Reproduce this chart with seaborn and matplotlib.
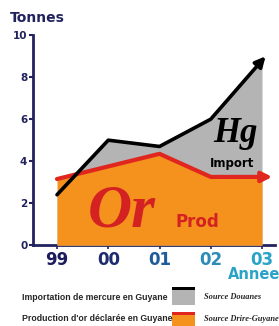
import numpy as np
import matplotlib
matplotlib.use("Agg")
import matplotlib.pyplot as plt
from matplotlib.patches import Rectangle
import seaborn as sns

# data
years = ["99", "00", "01", "02", "03"]
hg_import = [2.4, 5.0, 4.7, 6.0, 8.8]      # mercure importé (t)
or_prod = [3.15, 3.75, 4.35, 3.25, 3.25]   # or déclaré (t)
year_colors = ["#1c1c5c", "#1d2c6e", "#1f5c9c", "#2b8cb8", "#2aa3c6"]

sns.set_style("ticks")
plt.rcParams['font.family'] = ['DejaVu Sans']

navy = "#22225e"
orange = "#f5921e"
red = "#e0261e"
grey = "#b4b4b4"

fig = plt.figure(figsize=(2.79, 3.26), dpi=100)
ax = fig.add_axes([0.118, 0.248, 0.867, 0.644])

x = np.arange(len(years))

# areas
ax.fill_between(x, 0, hg_import, color=grey, zorder=2, lw=0)
ax.fill_between(x, 0, or_prod, color=orange, zorder=3, lw=0)

# lines
sns.lineplot(x=x, y=hg_import, color="black", lw=2.6, ax=ax, zorder=5)
sns.lineplot(x=x, y=or_prod, color=red, lw=3, ax=ax, zorder=4)

# arrow heads continuing the last segments
def arrow_end(xs, ys, ext, color, lw):
    dx, dy = xs[-1] - xs[-2], ys[-1] - ys[-2]
    ax.annotate("", xy=(xs[-1] + ext * dx, ys[-1] + ext * dy),
                xytext=(xs[-1] - 0.02 * dx, ys[-1] - 0.02 * dy),
                arrowprops=dict(arrowstyle="-|>,head_length=0.6,head_width=0.3",
                                color=color, lw=lw, shrinkA=0, shrinkB=0),
                zorder=6, annotation_clip=False)

arrow_end(x, hg_import, 0.07, "black", 2.6)
arrow_end(x, or_prod, 0.2, red, 3)

# labels inside the chart
ax.text(1.27, 1.6, "Or", color="#d42222", fontsize=44, fontweight="bold",
        fontstyle="italic", family="Liberation Serif", ha="center", va="center", zorder=7)
ax.text(2.73, 1.1, "Prod", color="#d42222", fontsize=12, fontweight="bold",
        ha="center", va="center", zorder=7)
ax.text(3.49, 5.3, "Hg", color="black", fontsize=25, fontweight="bold",
        fontstyle="italic", family="Liberation Serif", ha="center", va="center", zorder=7)
ax.text(3.42, 3.9, "Import", color="black", fontsize=8.5, fontweight="bold",
        ha="center", va="center", zorder=7)

ax.set_xlim(-0.47, 4.25)
ax.set_ylim(0, 10)
ax.set_xticks(x)
ax.set_xticklabels(years)
for lab, c in zip(ax.get_xticklabels(), year_colors):
    lab.set_color(c)
    lab.set_fontweight("bold")
    lab.set_fontsize(12)
ax.set_yticks([0, 2, 4, 6, 8, 10])
ax.tick_params(axis="y", labelsize=7.5, colors=navy, length=3, width=1.5, pad=1)
ax.tick_params(axis="x", length=3, width=1.2, color=navy, pad=1)
for lab in ax.get_yticklabels():
    lab.set_fontweight("bold")

sns.despine(ax=ax)
ax.spines["left"].set_color(navy)
ax.spines["bottom"].set_color(navy)
ax.spines["left"].set_linewidth(2)
ax.spines["bottom"].set_linewidth(2)
ax.spines["left"].set_zorder(1)
ax.spines["bottom"].set_zorder(1)

fig.text(0.035, 0.945, "Tonnes", color=navy, fontsize=10, fontweight="bold",
         ha="left", va="center")
fig.text(0.91, 0.158, "Annee", color="#2aa3c6", fontsize=10.5, fontweight="bold",
         ha="center", va="center")

# legend
fig.text(0.08, 0.088, "Importation de mercure en Guyane", fontsize=6.3,
         fontweight="bold", family="Liberation Sans", ha="left", va="center")
fig.text(0.08, 0.022, "Production d'or déclarée en Guyane", fontsize=6.3,
         fontweight="bold", family="Liberation Sans", ha="left", va="center")
fig.patches.append(Rectangle((0.617, 0.065), 0.082, 0.052, transform=fig.transFigure,
                             facecolor=grey, edgecolor="none"))
fig.patches.append(Rectangle((0.617, 0.109), 0.082, 0.01, transform=fig.transFigure,
                             facecolor="black", edgecolor="none"))
fig.patches.append(Rectangle((0.617, 0.0), 0.082, 0.04, transform=fig.transFigure,
                             facecolor=orange, edgecolor="none"))
fig.patches.append(Rectangle((0.617, 0.034), 0.082, 0.008, transform=fig.transFigure,
                             facecolor=red, edgecolor="none"))
fig.text(0.73, 0.088, "Source Douanes", fontsize=6, fontweight="bold",
         fontstyle="italic", family="Liberation Serif", ha="left", va="center")
fig.text(0.73, 0.022, "Source Drire-Guyane", fontsize=6, fontweight="bold",
         fontstyle="italic", family="Liberation Serif", ha="left", va="center")

fig.savefig("out.png", dpi=100)
